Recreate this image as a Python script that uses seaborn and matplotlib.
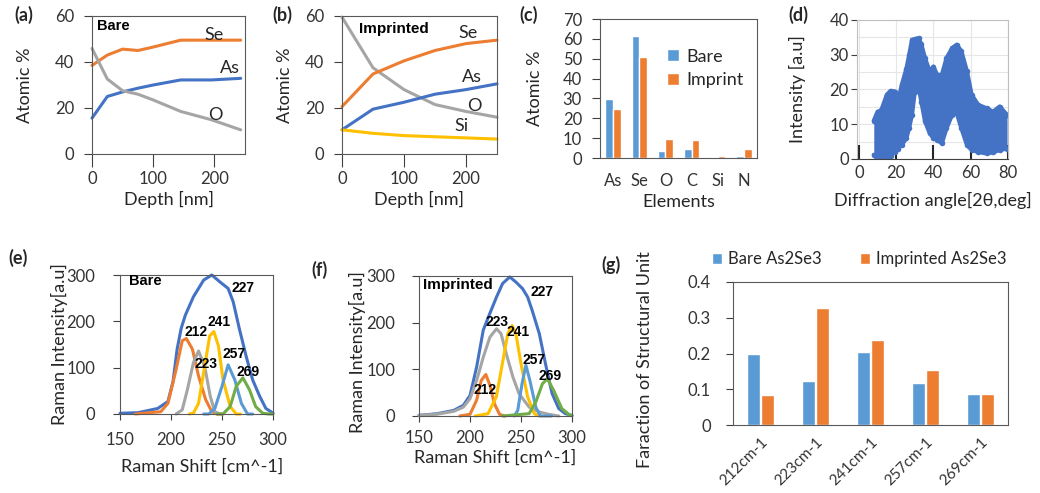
import matplotlib
matplotlib.use("Agg")
import matplotlib.pyplot as plt
import seaborn as sns
import pandas as pd

W, H = 1040, 493

BLUE = '#4472C4'
ORANGE = '#ED7D31'
GRAY = '#A5A5A5'
YELLOW = '#FFC000'
LBLUE = '#5B9BD5'
GREEN = '#70AD47'

# (a) bare film, depth profile
depth_a = [0, 25, 50, 75, 100, 145, 195, 243]
se_a = [38.5, 43, 45.6, 45, 46.5, 49.5, 49.5, 49.5]
as_a = [15.6, 25, 27, 28.6, 30, 32.2, 32.2, 32.9]
o_a = [45.9, 32.6, 27.5, 26, 23.5, 18.5, 14.9, 10.5]

# (b) imprinted film, depth profile
depth_b = [0, 50, 100, 150, 200, 250]
se_b = [20.6, 34.8, 40.5, 45, 48, 49.5]
as_b = [10.5, 19.5, 22.5, 26, 28, 30.5]
o_b = [59.5, 37.5, 28, 21.5, 18.5, 16]
si_b = [10.5, 9, 8, 7.5, 7, 6.5]

# (c) surface composition
elements = ['As', 'Se', 'O', 'C', 'Si', 'N']
bare_c = [29.6, 61.4, 3.5, 4.4, 0, 0.9]
imprint_c = [24.6, 51, 9.4, 8.9, 1, 4.4]

# (d) XRD, upper / lower edge of the scattered points
xrd_angle = [8, 10, 12, 15, 17, 19.5, 21, 23, 25.5, 27, 28.5, 30, 32, 33.5, 35.5,
             38, 40, 42, 44.5, 47, 50, 52.5, 55, 58, 60.5, 64, 68.5, 72, 75.5, 79.5]
xrd_high = [11, 13.6, 14, 18.5, 19.6, 19.4, 16.5, 21.3, 26, 30, 34.3, 34.5, 34.8, 33, 29,
            25.2, 26.6, 24.2, 24.2, 29, 31.9, 32.9, 31, 25.2, 18.5, 15.6, 14.6, 13.6, 15.1, 12.7]
xrd_low = [1.2, 0, 0, 0.2, 1, 2, 3, 4, 6, 9, 12.7, 19.4, 20.9, 16.5, 10.8,
           7.4, 6, 5.5, 4.5, 8.8, 12.7, 13.2, 8.8, 4, 2.6, 2, 1.6, 1.9, 2.6, 3]

# (e) Raman, bare
e_tot_x = [150, 168, 187, 197, 202, 206, 210, 214, 222, 232, 240, 248, 256, 261, 267, 274, 280, 287, 293, 300]
e_tot_y = [1.5, 3, 12, 27, 70, 140, 185, 213, 253, 289, 300, 285, 271, 242, 184, 122, 74, 38, 12, 2]
e_212_x = [165, 190, 197, 205, 211, 215, 221, 227, 234, 240, 245, 250]
e_212_y = [0, 5, 23, 96, 158, 163, 140, 82, 31, 5, 0, 0]
e_223_x = [205, 211, 216, 222, 227, 233, 238.5, 243, 248]
e_223_y = [0, 9, 52, 111, 136, 103, 38, 5, 0]
e_241_x = [218, 222, 227, 233, 238, 242, 246.5, 251, 258, 264, 268]
e_241_y = [0, 2, 23, 103, 169, 178, 147, 74, 16, 0, 0]
e_257_x = [232, 237, 243, 250, 256, 262.5, 269, 275, 280]
e_257_y = [0, 0, 12, 60, 106, 74, 23, 0, 0]
e_269_x = [245, 251, 258, 264, 270.5, 277, 283, 290, 296, 300]
e_269_y = [0, 0, 16, 60, 78, 52, 16, 1.5, 0, 0]

# (f) Raman, imprinted
f_tot_x = [150, 168, 184, 193.5, 200, 206.5, 213, 218, 226, 232, 239, 245, 251.5, 256.5, 261, 268, 274, 280.5, 287, 293.5, 300]
f_tot_y = [1.4, 5, 12, 23, 44, 105, 184, 212, 255, 284, 298, 287, 273, 255, 226, 176, 112, 48, 16, 5, 1.4]
f_223_x = [150, 168, 184, 193.5, 200, 206.5, 213, 219.5, 226, 230.5, 235.5, 242, 248, 258, 268, 277, 287]
f_223_y = [1.4, 4, 10, 19, 37, 76, 126, 169, 187, 176, 134, 84, 48, 19, 8.6, 3.6, 0]
f_212_x = [190, 200, 206.5, 211, 215.5, 219.5, 224, 229, 234]
f_212_y = [0, 3.6, 34, 76, 89, 66, 26, 3.6, 0]
f_241_x = [205, 217.7, 225.8, 232.3, 237, 241.3, 245, 250, 256.5, 263, 268]
f_241_y = [0, 5, 41, 119, 176, 194, 176, 112, 41, 5, 0]
f_257_x = [243.5, 246.8, 251, 254.8, 258.7, 264.5, 269, 280]
f_257_y = [0, 12, 69, 109, 76, 19, 0, 0]
f_269_x = [232, 258, 264.5, 271, 275.8, 282, 290, 298, 300]
f_269_y = [0, 5, 30, 69, 80, 55, 16, 1.4, 0.5]

# (g) fraction of structural units
units = ['212cm-1', '223cm-1', '241cm-1', '257cm-1', '269cm-1']
bare_g = [0.199, 0.122, 0.205, 0.117, 0.088]
imp_g = [0.083, 0.327, 0.238, 0.155, 0.088]

sns.set_style('ticks')
plt.rcParams['font.family'] = ['Lato', 'DejaVu Sans']
plt.rcParams.update({
    'text.color': '#262626',
    'axes.labelcolor': '#262626',
    'xtick.labelcolor': '#333333',
    'ytick.labelcolor': '#333333',
    'xtick.color': '#404040',
    'ytick.color': '#404040',
})

fig = plt.figure(figsize=(W / 100, H / 100), dpi=100)


def make_axes(box):
    l, t, r, b = box
    ax = fig.add_axes([l / W, 1 - b / H, (r - l) / W, (b - t) / H])
    for s in ax.spines.values():
        s.set_visible(True)
        s.set_color('#595959')
        s.set_linewidth(0.8)
    ax.tick_params(labelsize=12)
    return ax


def put_labels(ax, box, xlabel, ylabel, xl_y, yl_x, xl_x=None, yl_y=None):
    l, t, r, b = box
    ax.set_xlabel(xlabel, fontsize=13, va='center')
    ax.set_ylabel(ylabel, fontsize=13, va='center')
    cx = (l + r) / 2 if xl_x is None else xl_x
    cy = (t + b) / 2 if yl_y is None else yl_y
    ax.xaxis.set_label_coords((cx - l) / (r - l), (b - xl_y) / (b - t))
    ax.yaxis.set_label_coords((yl_x - l) / (r - l), (b - cy) / (b - t))


def panel_tag(x, y, s):
    fig.text(x / W, 1 - y / H, s, fontsize=13, fontweight='bold', ha='left', va='center')


def line(ax, x, y, c):
    sns.lineplot(x=x, y=y, ax=ax, color=c, linewidth=2.2, clip_on=False)


def num(ax, x, y, s, size=10):
    ax.text(x, y, s, fontsize=size, fontweight='bold', family='Liberation Sans',
            ha='left', va='center', color='black')


# ---------- (a) ----------
box_a = (92, 16, 245, 154)
ax = make_axes(box_a)
line(ax, depth_a, se_a, ORANGE)
line(ax, depth_a, as_a, BLUE)
line(ax, depth_a, o_a, GRAY)
ax.set_xlim(0, 250)
ax.set_ylim(0, 60)
ax.set_xticks([0, 100, 200])
ax.set_yticks([0, 20, 40, 60])
ax.tick_params(axis='x', length=9, pad=3)
ax.tick_params(axis='y', length=6, pad=7)
ax.text(199, 51.7, 'Se', fontsize=13, ha='center', va='center')
ax.text(226, 37.2, 'As', fontsize=13, ha='center', va='center')
ax.text(202, 17, 'O', fontsize=13, ha='center', va='center')
num(ax, 8, 55.5, 'Bare', 10.5)
put_labels(ax, box_a, 'Depth [nm]', 'Atomic %', 199, 25)
panel_tag(14, 15, '(a)')

# ---------- (b) ----------
box_b = (342, 16, 497, 154)
ax = make_axes(box_b)
line(ax, depth_b, o_b, GRAY)
line(ax, depth_b, se_b, ORANGE)
line(ax, depth_b, as_b, BLUE)
line(ax, depth_b, si_b, YELLOW)
ax.set_xlim(0, 250)
ax.set_ylim(0, 60)
ax.set_xticks([0, 100, 200])
ax.set_yticks([0, 20, 40, 60])
ax.tick_params(axis='x', length=9, pad=3)
ax.tick_params(axis='y', length=6, pad=7)
ax.text(203, 52.8, 'Se', fontsize=13, ha='center', va='center')
ax.text(210, 33.3, 'As', fontsize=13, ha='center', va='center')
ax.text(214, 21, 'O', fontsize=13, ha='center', va='center')
ax.text(192.5, 12, 'Si', fontsize=13, ha='center', va='center')
num(ax, 26.7, 54.5, 'Imprinted', 11)
put_labels(ax, box_b, 'Depth [nm]', 'Atomic %', 199, 285)
panel_tag(272, 15, '(b)')

# ---------- (c) ----------
box_c = (600, 19, 757, 158)
ax = make_axes(box_c)
df_c = pd.DataFrame({
    'element': elements * 2,
    'value': bare_c + imprint_c,
    'sample': ['Bare'] * len(elements) + ['Imprint'] * len(elements),
})
sns.barplot(data=df_c, x='element', y='value', hue='sample', palette=[LBLUE, ORANGE],
            width=0.58, saturation=1, ax=ax)
ax.set_ylim(0, 70)
ax.set_yticks(range(0, 71, 10))
ax.tick_params(axis='x', length=0, pad=11)
ax.tick_params(axis='y', length=6, pad=7)
ax.legend(title=None, frameon=False, fontsize=13, loc='center left',
          bbox_to_anchor=(0.325, 0.645), handlelength=0.65, handleheight=0.65,
          handletextpad=0.4, labelspacing=0.4)
put_labels(ax, box_c, 'Elements', 'Atomic %', 202, 535)
panel_tag(519, 15, '(c)')

# ---------- (d) ----------
box_d = (857, 20, 1008, 159)
ax = make_axes(box_d)
for s in ['top', 'right', 'left']:
    ax.spines[s].set_color('#BFBFBF')
ax.spines['bottom'].set_color('#404040')
ax.set_yticks(range(0, 41, 5), minor=True)
ax.grid(which='both', axis='y', color='#E6E6E6', lw=0.8)
ax.set_xticks([0, 20, 40, 60, 80])
ax.grid(which='major', axis='x', color='#E6E6E6', lw=0.8)
ax.set_axisbelow(True)
ax.fill_between(xrd_angle, xrd_low, xrd_high, color=BLUE, lw=0)
sns.lineplot(x=xrd_angle, y=xrd_high, ax=ax, color=BLUE, linewidth=3, marker='o',
             markersize=4, markeredgewidth=0)
sns.lineplot(x=xrd_angle, y=xrd_low, ax=ax, color=BLUE, linewidth=3, marker='o',
             markersize=4, markeredgewidth=0)
ax.set_xlim(-1, 80)
ax.set_ylim(0, 40)
ax.set_yticks([0, 10, 20, 30, 40])
ax.tick_params(axis='x', which='major', direction='in', length=10, width=1.5,
               color='#262626', pad=4)
ax.tick_params(axis='y', which='major', length=4, pad=2)
ax.tick_params(axis='y', which='minor', length=0)
put_labels(ax, box_d, 'Diffraction angle[2θ,deg]', 'Intensity [a.u]', 200, 797)
panel_tag(788, 15, '(d)')

# ---------- (e) ----------
box_e = (120, 275, 273, 414)
ax = make_axes(box_e)
line(ax, e_tot_x, e_tot_y, BLUE)
line(ax, e_212_x, e_212_y, ORANGE)
line(ax, e_223_x, e_223_y, GRAY)
line(ax, e_241_x, e_241_y, YELLOW)
line(ax, e_257_x, e_257_y, LBLUE)
line(ax, e_269_x, e_269_y, GREEN)
ax.set_xlim(150, 300)
ax.set_ylim(0, 300)
ax.set_xticks([150, 200, 250, 300])
ax.set_yticks([0, 100, 200, 300])
ax.tick_params(axis='x', length=4, pad=9)
ax.tick_params(axis='y', length=5, pad=13)
num(ax, 159, 287, 'Bare', 10.5)
num(ax, 259.3, 271, '227')
num(ax, 212.8, 176, '212')
num(ax, 236, 198, '241')
num(ax, 223, 107, '223')
num(ax, 250.6, 129, '257')
num(ax, 264.7, 90, '269')
put_labels(ax, box_e, 'Raman Shift [cm^-1]', 'Raman Intensity[a.u]', 467, 59, xl_x=202)
panel_tag(8, 258, '(e)')

# ---------- (f) ----------
box_f = (419, 276, 572, 416)
ax = make_axes(box_f)
line(ax, f_tot_x, f_tot_y, BLUE)
line(ax, f_223_x, f_223_y, GRAY)
line(ax, f_212_x, f_212_y, ORANGE)
line(ax, f_241_x, f_241_y, YELLOW)
line(ax, f_257_x, f_257_y, LBLUE)
line(ax, f_269_x, f_269_y, GREEN)
ax.set_xlim(150, 300)
ax.set_ylim(0, 300)
ax.set_xticks([150, 200, 250, 300])
ax.set_yticks([0, 100, 200, 300])
ax.tick_params(axis='x', length=4, pad=6)
ax.tick_params(axis='y', length=5, pad=12)
num(ax, 154, 280, 'Imprinted', 11)
num(ax, 259.7, 266, '227')
num(ax, 215.5, 201, '223')
num(ax, 235.5, 180, '241')
num(ax, 251, 121, '257')
num(ax, 267, 85, '269')
num(ax, 203, 55, '212')
put_labels(ax, box_f, 'Raman Shift [cm^-1]', 'Raman Intensity[a.u]', 458, 357, yl_y=352)
panel_tag(311, 270, '(f)')

# ---------- (g) ----------
box_g = (733, 282, 1008, 425)
ax = make_axes(box_g)
df_g = pd.DataFrame({
    'unit': units * 2,
    'value': bare_g + imp_g,
    'sample': ['Bare As2Se3'] * len(units) + ['Imprinted As2Se3'] * len(units),
})
sns.barplot(data=df_g, x='unit', y='value', hue='sample', palette=[LBLUE, ORANGE],
            width=0.52, gap=0.12, saturation=1, ax=ax)
ax.set_ylim(0, 0.4)
ax.set_yticks([0, 0.1, 0.2, 0.3, 0.4])
ax.set_yticklabels(['0', '0.1', '0.2', '0.3', '0.4'])
ax.tick_params(axis='x', length=0, pad=7, labelsize=11)
ax.tick_params(axis='y', length=5, pad=11)
for lab in ax.get_xticklabels():
    lab.set_rotation(45)
    lab.set_ha('right')
    lab.set_rotation_mode('anchor')
ax.legend(title=None, frameon=False, fontsize=12, ncol=2, loc='center left',
          bbox_to_anchor=(-0.13, 1.16), handlelength=0.6, handleheight=0.6,
          handletextpad=0.35, columnspacing=2.3)
put_labels(ax, box_g, '', 'Faraction of Structural Unit', 470, 645, yl_y=360)
panel_tag(601, 265, '(g)')

fig.savefig('out.png', dpi=100)
